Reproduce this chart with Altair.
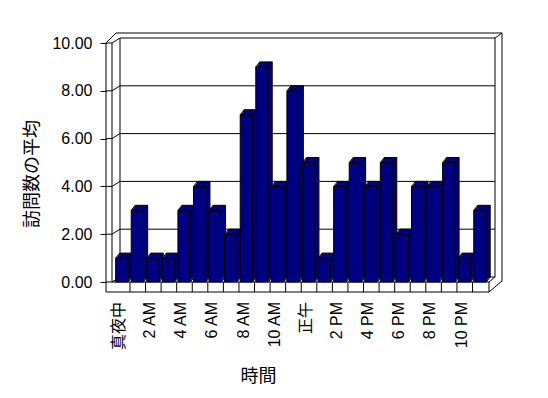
import altair as alt
import pandas as pd

# ---------------- data ----------------
HOURS = ["真夜中", "1 AM", "2 AM", "3 AM", "4 AM", "5 AM", "6 AM", "7 AM",
         "8 AM", "9 AM", "10 AM", "11 AM", "正午", "1 PM", "2 PM", "3 PM",
         "4 PM", "5 PM", "6 PM", "7 PM", "8 PM", "9 PM", "10 PM", "11 PM"]
VISITS = [1, 3, 1, 1, 3, 4, 3, 2, 7, 9, 4, 8, 5, 1, 4, 5, 4, 5, 2, 4, 4, 5, 1, 3]
Y_TICKS = [0, 2, 4, 6, 8, 10]
Y_TITLE = "訪問数の平均"
X_TITLE = "時間"

# ---------------- geometry / style ----------------
NAVY = "#000080"
LATIN = "Liberation Sans, Noto Sans CJK JP"
CJK = "Noto Sans CJK JP"
W, H = 383, 249          # front face of plot (px)
PITCH = 15.57            # px per category
X0PX = 8.4               # px from plot left edge to first category boundary
ZERO_PX = 239            # px from plot top to value 0
DX, DY = 4, -5           # bar depth offset
BACK_DX, BACK_DY = 8, -5  # wall depth

x_scale = alt.Scale(domain=[-X0PX / PITCH, (W - X0PX) / PITCH], nice=False, zero=False)
y_scale = alt.Scale(domain=[10 - 10 * H / ZERO_PX, 10], nice=False, zero=False)

y_axis = alt.Axis(values=Y_TICKS, format=".2f", grid=False, domain=False,
                  tickSize=6, tickColor="black", labelPadding=8,
                  labelFont=LATIN, labelFontSize=16, labelColor="black",
                  title=Y_TITLE, titleFont=CJK, titleFontSize=18,
                  titleFontWeight="normal", titleColor="black",
                  titleAngle=270, titleX=-74, titleY=130.5,
                  titleAlign="center", titleBaseline="middle")

df = pd.DataFrame({"hour": HOURS, "visits": VISITS, "idx": list(range(len(HOURS)))})
ticks_df = pd.DataFrame({"v": Y_TICKS})

base = alt.Chart(df).transform_calculate(
    x0="datum.idx + 0.08", x1="datum.idx + 0.88", zero="0"
)

def bar_rect(**mk):
    return base.mark_rect(**mk).encode(
        x=alt.X("x0:Q", scale=x_scale, axis=None),
        x2="x1:Q",
        y=alt.Y("visits:Q", scale=y_scale, axis=y_axis),
        y2="zero:Q",
    )

back = bar_rect(fill=NAVY, stroke="black", strokeWidth=1,
                xOffset=DX, x2Offset=DX, yOffset=DY, y2Offset=DY)
fills = [bar_rect(fill=NAVY, strokeWidth=0,
                  xOffset=DX * k / 4, x2Offset=DX * k / 4,
                  yOffset=DY * k / 4, y2Offset=DY * k / 4) for k in (1, 2, 3)]

def diag(xf, yf):
    return base.mark_rule(color="black", strokeWidth=1,
                          x2Offset=DX, y2Offset=DY).encode(
        x=alt.X(f"{xf}:Q", scale=x_scale, axis=None),
        x2=f"{xf}:Q",
        y=alt.Y(f"{yf}:Q", scale=y_scale, axis=y_axis),
        y2=f"{yf}:Q",
    )

diags = [diag("x0", "visits"), diag("x1", "visits"), diag("x1", "zero")]
front = bar_rect(fill=NAVY, stroke="black", strokeWidth=1)

# ---------------- frame (walls / floor) ----------------
SEG = pd.DataFrame({
    "sx": [6, 0, 10, 14, 389, 389, 396, 383, 383, 6, 0, 383, 0],
    "sy": [0, 0, -10, -5, -5, -5, -10, 249, 239, 239, 249, 239, 0],
    "ex": [6, 10, 396, 14, 389, 396, 396, 396, 389, 383, 383, 383, 0],
    "ey": [239, -10, -10, 234, 234, -10, 238, 238, 234, 239, 249, 249, 249],
})
frame = alt.Chart(SEG).mark_rule(color="black", strokeWidth=1).encode(
    x=alt.X("sx:Q", scale=None, axis=None),
    y=alt.Y("sy:Q", scale=None, axis=None),
    x2="ex:Q", y2="ey:Q",
)

grid_base = alt.Chart(ticks_df)
grid_front = grid_base.mark_rule(color="black").encode(
    x=alt.value(0), x2=alt.value(6),
    y=alt.Y("v:Q", scale=y_scale, axis=y_axis),
)
grid_diag = grid_base.mark_rule(color="black", y2Offset=BACK_DY).encode(
    x=alt.value(6), x2=alt.value(6 + BACK_DX),
    y=alt.Y("v:Q", scale=y_scale, axis=y_axis), y2="v:Q",
)
grid_back = grid_base.mark_rule(color="black", yOffset=BACK_DY).encode(
    x=alt.value(6 + BACK_DX), x2=alt.value(389),
    y=alt.Y("v:Q", scale=y_scale, axis=y_axis),
)

floor_ticks = alt.Chart(df).transform_filter("datum.idx > 0").mark_rule(
    color="black").encode(
    x=alt.X("idx:Q", scale=x_scale, axis=None),
    y=alt.value(ZERO_PX), y2=alt.value(H),
)

labels = alt.Chart(df).transform_filter("datum.idx % 2 == 0").transform_calculate(
    lx="datum.idx + 0.3"
).mark_text(angle=270, align="right", baseline="middle",
            font=LATIN, fontSize=16, color="black").encode(
    x=alt.X("lx:Q", scale=x_scale, axis=None),
    y=alt.value(259),
    text="hour:N",
)

xtitle = alt.Chart(pd.DataFrame({"t": [X_TITLE]})).mark_text(
    font=CJK, fontSize=18, color="black", align="center", baseline="middle"
).encode(x=alt.value(152.5), y=alt.value(334), text="t:N")

chart = alt.layer(
    grid_back, frame, grid_front, grid_diag, floor_ticks,
    back, *fills, *diags, front, labels, xtitle,
).properties(
    width=W, height=H, autosize="none",
    padding={"left": 98, "top": 35, "right": 51, "bottom": 98},
    background="white",
).configure_view(stroke=None)

chart.save("out.html", embed_options={"renderer": "svg", "actions": False})
